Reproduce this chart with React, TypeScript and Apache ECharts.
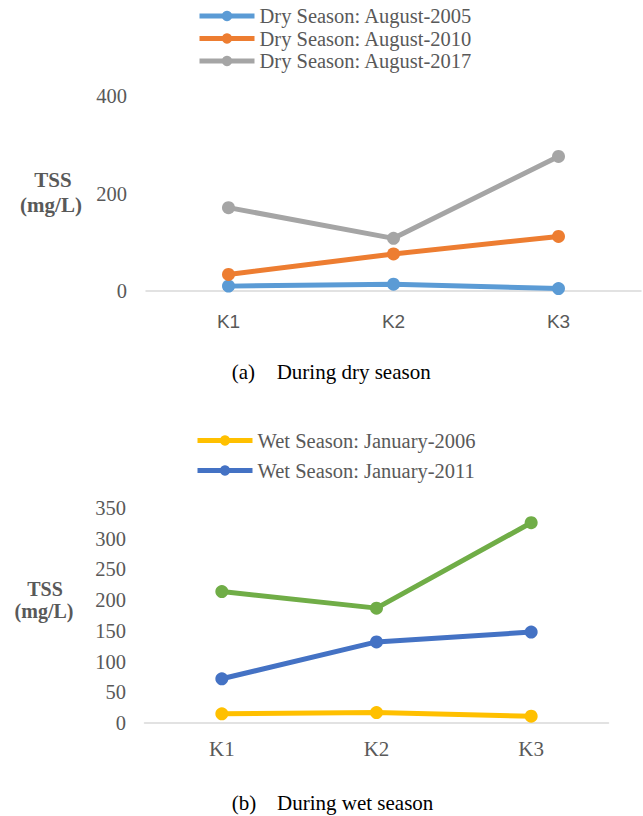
import React, { useEffect, useRef } from "react";
import * as echarts from "echarts";

const categories = ["K1", "K2", "K3"];

const dryNames = ["Dry Season: August-2005", "Dry Season: August-2010", "Dry Season: August-2017"];
const dry2005 = [10, 14, 5];
const dry2010 = [34, 76, 112];
const dry2017 = [171, 108, 276];

const wetNames = ["Wet Season: January-2006", "Wet Season: January-2011", "Series 3"];
const wet2006 = [15, 17, 11];
const wet2011 = [72, 132, 148];
const wetThird = [214, 187, 326];

const dryTicks = { min: 0, max: 400, interval: 200 };
const wetTicks = { min: 0, max: 350, interval: 50 };

const dryColors = ["#5B9BD5", "#ED7D31", "#A5A5A5"];
const wetColors = ["#FFC000", "#4472C4", "#70AD47"];

const SERIF = "Liberation Serif";
const SANS = "Liberation Sans";
const GREY = "#595959";

function lineSeries(name: string, data: number[], color: string, axisIndex: number) {
  return {
    type: "line",
    name,
    data,
    xAxisIndex: axisIndex,
    yAxisIndex: axisIndex,
    symbol: "circle",
    symbolSize: 13,
    lineStyle: { color, width: 5 },
    itemStyle: { color },
    z: 3,
  };
}

function txt(text: string, x: number, y: number, opts: any = {}) {
  return {
    type: "text",
    x,
    y,
    style: {
      text,
      fontFamily: SERIF,
      fontSize: 21,
      fill: "#000",
      verticalAlign: "middle",
      ...opts,
    },
  };
}

export default function App() {
  const ref = useRef<HTMLDivElement>(null);
  useEffect(() => {
    if (!ref.current) return;
    const chart = echarts.init(ref.current, undefined, { renderer: "svg" });
    const legendCommon = {
      orient: "vertical",
      padding: 0,
      itemWidth: 55,
      itemHeight: 13,
      textStyle: { fontFamily: SERIF, fontSize: 20.5, color: GREY, lineHeight: 20 },
      lineStyle: { width: 5 },
    };
    const boldGrey = { fontWeight: "bold", fill: GREY, align: "center" };
    const boldGreySm = { ...boldGrey, fontSize: 20 };
    chart.setOption({
      animation: false,
      backgroundColor: "#ffffff",
      legend: [
        {
          ...legendCommon,
          data: dryNames,
          left: 197,
          top: 5.5,
          itemGap: 1.5,
        },
        {
          ...legendCommon,
          data: [wetNames[0], wetNames[1]],
          left: 195,
          top: 430,
          itemGap: 9,
        },
      ],
      grid: [
        { left: 146, top: 96, width: 495, height: 195 },
        { left: 144.5, top: 508, width: 464, height: 215 },
      ],
      xAxis: [
        {
          type: "category",
          gridIndex: 0,
          data: categories,
          boundaryGap: true,
          axisLine: { lineStyle: { color: "#D9D9D9", width: 1.5 } },
          axisTick: { show: false },
          axisLabel: { fontFamily: SANS, fontSize: 19, color: GREY, margin: 21 },
        },
        {
          type: "category",
          gridIndex: 1,
          data: categories,
          boundaryGap: true,
          axisLine: { lineStyle: { color: "#D9D9D9", width: 1.5 } },
          axisTick: { show: false },
          axisLabel: { fontFamily: SERIF, fontSize: 21, color: GREY, margin: 15 },
        },
      ],
      yAxis: [
        {
          type: "value",
          gridIndex: 0,
          ...dryTicks,
          axisLine: { show: false },
          axisTick: { show: false },
          splitLine: { show: false },
          axisLabel: { fontFamily: SERIF, fontSize: 20.5, color: GREY, margin: 19 },
        },
        {
          type: "value",
          gridIndex: 1,
          ...wetTicks,
          axisLine: { show: false },
          axisTick: { show: false },
          splitLine: { show: false },
          axisLabel: { fontFamily: SERIF, fontSize: 20.5, color: GREY, margin: 18.5 },
        },
      ],
      series: [
        lineSeries(dryNames[0], dry2005, dryColors[0], 0),
        lineSeries(dryNames[1], dry2010, dryColors[1], 0),
        lineSeries(dryNames[2], dry2017, dryColors[2], 0),
        lineSeries(wetNames[0], wet2006, wetColors[0], 1),
        lineSeries(wetNames[1], wet2011, wetColors[1], 1),
        lineSeries(wetNames[2], wetThird, wetColors[2], 1),
      ],
      graphic: [
        txt("TSS", 53, 180, boldGrey),
        txt("(mg/L)", 51, 205, boldGrey),
        txt("TSS", 45, 588.5, boldGreySm),
        txt("(mg/L)", 44, 610.5, boldGreySm),
        txt("(a)", 231.7, 371.7),
        txt("During dry season", 276.7, 371.7),
        txt("(b)", 231.7, 803),
        txt("During wet season", 277, 803),
      ],
    });
    return () => chart.dispose();
  }, []);
  return (
    <div
      ref={ref}
      style={{ position: "absolute", left: 0, top: 0, width: 643, height: 816 }}
    />
  );
}
